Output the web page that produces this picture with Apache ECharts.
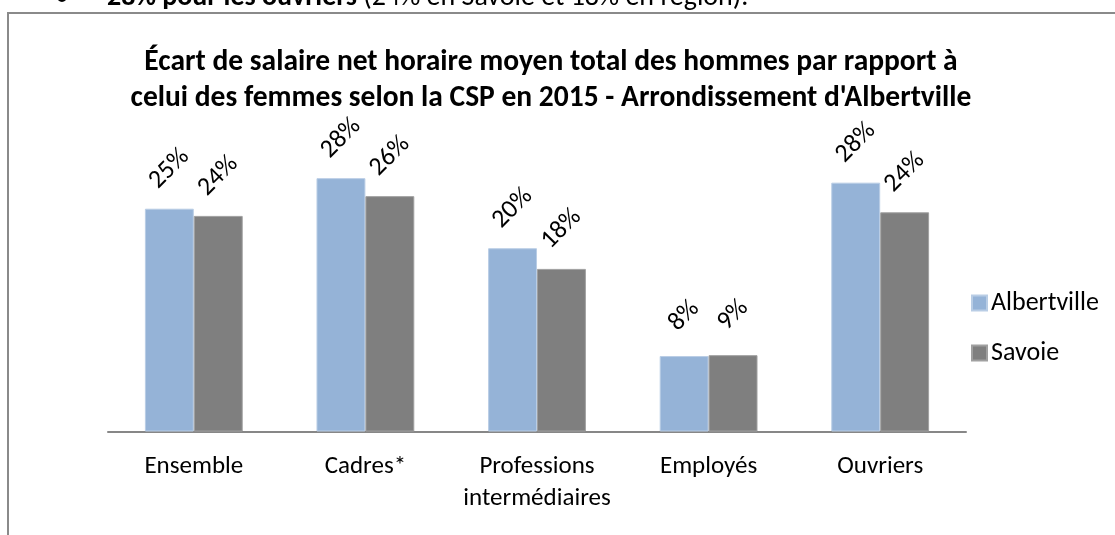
<!DOCTYPE html>
<html>
<head>
<meta charset="utf-8">
<script src="https://cdn.jsdelivr.net/npm/echarts@6/dist/echarts.min.js"></script>
<style>
  html, body { margin: 0; padding: 0; background: #fff; }
  #chart { width: 1115px; height: 535px; }
</style>
</head>
<body>
<div id="chart"></div>
<script>
var FONT = 'Carlito, Lato, sans-serif';

var categories = ['Ensemble', 'Cadres*', 'Professions\nintermédiaires', 'Employés', 'Ouvriers'];
var albertville = [24.8, 28.2, 20.4, 8.4, 27.7];
var savoie = [24.0, 26.2, 18.1, 8.5, 24.4];
var seriesNames = ['Albertville', 'Savoie'];

var chart = echarts.init(document.getElementById('chart'));

var labelOpt = {
  show: true,
  position: 'top',
  distance: 40,
  rotate: 45,
  align: 'center',
  verticalAlign: 'middle',
  color: '#000',
  fontFamily: FONT,
  fontSize: 26,
  formatter: function (p) { return Math.round(p.value) + '%'; }
};

var option = {
  backgroundColor: '#fff',
  animation: false,
  title: {
    text: "Écart de salaire net horaire moyen total des hommes par rapport à\ncelui des femmes selon la CSP en 2015 - Arrondissement d'Albertville",
    left: 546,
    top: 40,
    textAlign: 'center',
    textStyle: {
      fontFamily: FONT,
      fontWeight: 'bold',
      fontSize: 29.5,
      lineHeight: 36,
      color: '#000'
    }
  },
  legend: {
    orient: 'vertical',
    left: 966,
    top: 285,
    itemWidth: 15,
    itemHeight: 15,
    itemGap: 24,
    icon: 'rect',
    data: seriesNames,
    textStyle: { fontFamily: FONT, fontSize: 26, color: '#000', padding: [0, 0, 0, -1] }
  },
  grid: { left: 108, right: 149, top: 162, bottom: 103.5 },
  xAxis: {
    type: 'category',
    data: categories,
    axisLine: { lineStyle: { color: '#878787', width: 2 } },
    axisTick: { length: 9, lineStyle: { color: '#878787', width: 2 } },
    axisLabel: {
      margin: 19,
      color: '#000',
      fontFamily: FONT,
      fontSize: 25,
      lineHeight: 32,
      interval: 0
    }
  },
  yAxis: {
    type: 'value',
    min: 0,
    max: 30,
    show: false,
    splitLine: { show: false }
  },
  series: [
    {
      name: seriesNames[0],
      type: 'bar',
      data: albertville,
      barGap: '0%',
      barCategoryGap: '43%',
      itemStyle: { color: '#95B3D7', borderColor: '#B9CDE5', borderWidth: 1 },
      label: labelOpt
    },
    {
      name: seriesNames[1],
      type: 'bar',
      data: savoie,
      barGap: '0%',
      barCategoryGap: '43%',
      itemStyle: { color: '#7F7F7F', borderColor: '#A0A0A0', borderWidth: 1 },
      label: labelOpt
    }
  ],
  graphic: [
    {
      type: 'rect',
      shape: { x: 8, y: 13, width: 1200, height: 600 },
      style: { fill: 'none', stroke: '#8a8a8a', lineWidth: 2 },
      silent: true,
      z: -1
    },
    {
      type: 'text',
      left: 55,
      top: -16,
      style: {
        text: '•',
        font: '28px ' + FONT,
        fill: '#000'
      }
    },
    {
      type: 'text',
      left: 107,
      top: -16,
      style: {
        text: '{b|28% pour les ouvriers} (24% en Savoie et 18% en région).',
        font: '28px ' + FONT,
        fill: '#000',
        rich: {
          b: { fontWeight: 'bold', fontFamily: FONT, fontSize: 28 }
        }
      }
    }
  ]
};

chart.setOption(option);
</script>
</body>
</html>
